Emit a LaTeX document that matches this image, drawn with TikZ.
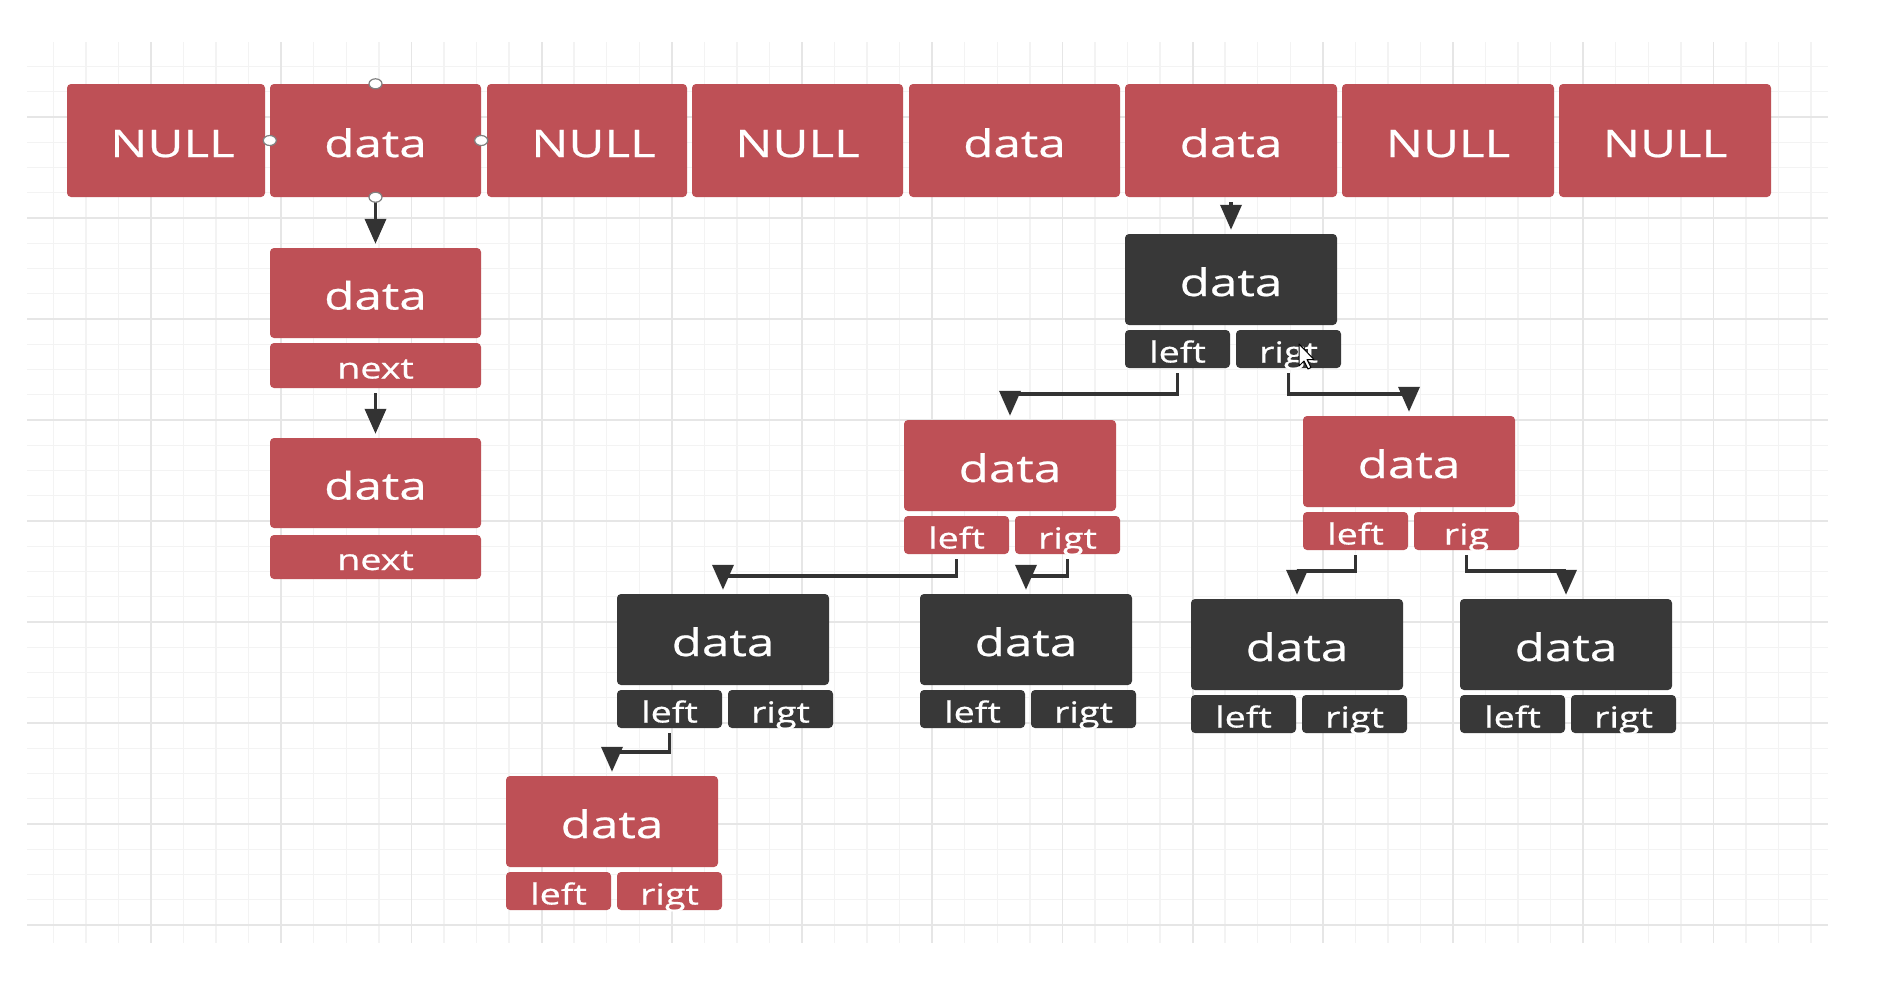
\documentclass[tikz,border=0pt]{standalone}
\usepackage{fontspec}
\newfontfamily\boxfont{Open Sans}[FakeStretch=1.3,FakeBold=0.6]
\usetikzlibrary{arrows.meta}

\definecolor{nodered}{RGB}{190,80,86}
\definecolor{nodedark}{RGB}{56,56,56}
\definecolor{linkgray}{RGB}{51,51,51}
\definecolor{minorgray}{RGB}{243,243,243}
\definecolor{majorgray}{RGB}{230,230,230}

\tikzset{
  minorline/.style={draw=minorgray, line width=1.4pt},
  majorline/.style={draw=majorgray, line width=1.8pt},
  cell/.style={rounded corners=4pt, inner sep=0pt, text=white,
    font=\boxfont\fontsize{38}{40}\selectfont, text height=33pt, text depth=0pt},
  databox/.style={cell, minimum width=212pt, minimum height=91pt},
  fieldbox/.style={cell, font=\boxfont\fontsize{29}{30}\selectfont,
    text height=27pt, minimum width=105pt, minimum height=38pt},
  link/.style={draw=linkgray, line width=3.6pt, shorten <=5pt, shorten >=4pt,
    -{Triangle[width=21pt,length=25pt]}},
  handle/.style={draw=gray, fill=white, line width=1.2pt}
}

\begin{document}
\begin{tikzpicture}[x=1pt,y=-1pt]
\useasboundingbox[fill=white] (0,0) rectangle (1880,1004);

% grid
\begin{scope}
\clip (27,42) rectangle (1828,943);
\foreach \k in {-4,...,52}
  \draw[minorline] (151+32.55*\k,42) -- (151+32.55*\k,943);
\foreach \k in {-3,...,33}
  \draw[minorline] (27,117+25.25*\k) -- (1828,117+25.25*\k);
\foreach \k in {-1,...,13}
  \draw[majorline] (151+130.2*\k,42) -- (151+130.2*\k,943);
\foreach \k in {-1,...,8}
  \draw[majorline] (27,117+101*\k) -- (1828,117+101*\k);
\end{scope}

% hash table row
\foreach \n/\x/\w/\s/\t in {
  t1/166/198/13/NULL,
  t2/375.5/211/0/data,
  t3/587/200/13/NULL,
  t4/797.5/211/0/NULL,
  t5/1014.5/211/0/data,
  t6/1231/212/0/data,
  t7/1448/212/0/NULL,
  t8/1665/212/0/NULL}
  \node[cell, fill=nodered, minimum width=\w pt, minimum height=113pt]
    (\n) at (\x,140.5) {\hspace*{\s pt}\t};

% linked list
\node[databox, fill=nodered, minimum width=211pt, minimum height=90pt]
  (ll1) at (375.5,293) {data};
\node[fieldbox, fill=nodered, minimum width=211pt, minimum height=45pt, text height=26pt]
  (ll1n) at (375.5,365.5) {next};
\node[databox, fill=nodered, minimum width=211pt, minimum height=90pt]
  (ll2) at (375.5,483) {data};
\node[fieldbox, fill=nodered, minimum width=211pt, minimum height=44pt, text height=26pt]
  (ll2n) at (375.5,557) {next};

% tree
\foreach \n/\c/\x/\y/\r in {
  root/nodedark/1125/234/rigt,
  lc/nodered/904/420/rigt,
  rc/nodered/1303/416/rig,
  ll/nodedark/617/594/rigt,
  lr/nodedark/920/594/rigt,
  rl/nodedark/1191/599/rigt,
  rr/nodedark/1460/599/rigt,
  lll/nodered/506/776/rigt}{
  \node[databox, fill=\c] (\n) at (\x+106,\y+45.5) {data};
  \node[fieldbox, fill=\c] (\n-l) at (\x+52.5,\y+115) {left};
  \node[fieldbox, fill=\c] (\n-r) at (\x+163.5,\y+115) {\r};
}

% connectors
\draw[link, shorten <=0pt] (t2.south) -- (ll1.north);
\draw[link] (ll1n.south) -- (ll2.north);
\draw[link] (t6.south) -- (root.north);
\foreach \a/\b/\d in {
  root-l/lc/26, root-r/rc/26,
  lc-l/ll/22, lc-r/lr/22,
  rc-l/rl/21, rc-r/rr/21,
  ll-l/lll/24}
  \draw[link] (\a.south) -- ++(0,\d) -| (\b.north);

% selection handles
\foreach \a in {north,south,east,west}
  \draw[handle] (t2.\a) ellipse (6.5pt and 5pt);

% mouse pointer
\draw[fill=white, line width=1pt, line join=round]
  (1299,344) -- ++(0,22) -- ++(5,-5) -- ++(4,8) -- ++(3,-1.5)
  -- ++(-4,-8) -- ++(7,0) -- cycle;
\end{tikzpicture}
\end{document}
